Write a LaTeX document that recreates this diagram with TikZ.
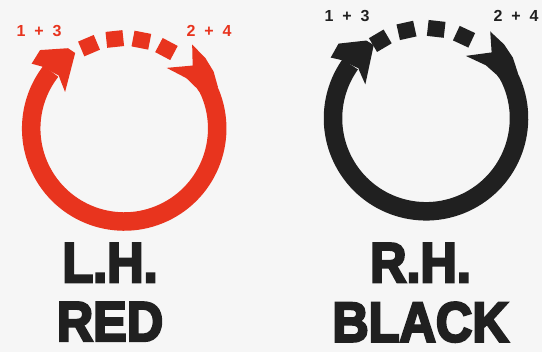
\documentclass[tikz,border=0pt]{standalone}
\usepackage{graphicx}
\usepackage{fontspec}
\setmainfont{Liberation Sans}
\newfontfamily\heavyfont{Liberation Sans Bold}[FakeBold=4.5]
\newfontfamily\labelfont{Liberation Sans Bold}[WordSpace=2]
\usepackage{tikz}
\usetikzlibrary{positioning}

\definecolor{lhred}{RGB}{232,52,30}
\definecolor{rhblack}{RGB}{32,32,32}
\definecolor{paper}{RGB}{246,246,246}

% one ring: solid arc, head at "1 + 3", notched tail at "2 + 4", dashes between
\newcommand\turnring[1]{%
  \draw[ring] (25:93) arc[start angle=25, end angle=-218, radius=93];
  \fill (143:103) -- (145:113) -- (137:115) -- (125:98) -- (123:90)
        -- (148.3:69.5) -- (142:82) -- (141:84) -- cycle;
  \fill (24:102.5) -- (32.5:106) -- (41:107.5) -- (51:108) -- (42.6:93)
        -- (55:74) -- (39:80) -- (29:83) -- (24:84) -- cycle;
  \foreach \a in {#1}
    \fill[rotate=\a] (82,-8.5) rectangle (98,8.5);
}

\begin{document}
\begin{tikzpicture}[
  x=1pt, y=1pt,
  node distance=20pt,
  ring/.style={line width=18.5pt},
  num/.style={inner sep=0pt, font=\labelfont\fontsize{16}{16}\selectfont},
  big/.style={inner sep=0pt, font=\heavyfont\fontsize{56}{56}\selectfont}
]
\fill[paper] (0,0) rectangle (542,-352);

% left hand
\begin{scope}[shift={(124.2,-128.5)}, lhred]
  \turnring{113,96,79,62}
\end{scope}
\node[num, text=lhred] (lhone) at (39,-31)  {1 + 3};
\node[num, text=lhred] (lhtwo) at (209,-31) {2 + 4};

% right hand
\begin{scope}[shift={(426,-118.3)}, rotate=2.5, rhblack]
  \turnring{118,100,81,62.5}
\end{scope}
\node[num, text=rhblack] (rhone) at (347,-16) {1 + 3};
\node[num, text=rhblack] (rhtwo) at (516,-16) {2 + 4};

\node[big, anchor=base, text=rhblack] (lh) at (110,-282) {\scalebox{0.9}[1]{L.H.}};
\node[big, text=rhblack, below=of lh] (red) {\scalebox{0.9}[1]{RED}};
\node[big, anchor=base, text=rhblack] (rh) at (420.5,-282) {\scalebox{0.9}[1]{R.H.}};
\node[big, text=rhblack, below=of rh] (black) {\scalebox{0.9}[1]{BLACK}};
\end{tikzpicture}
\end{document}
